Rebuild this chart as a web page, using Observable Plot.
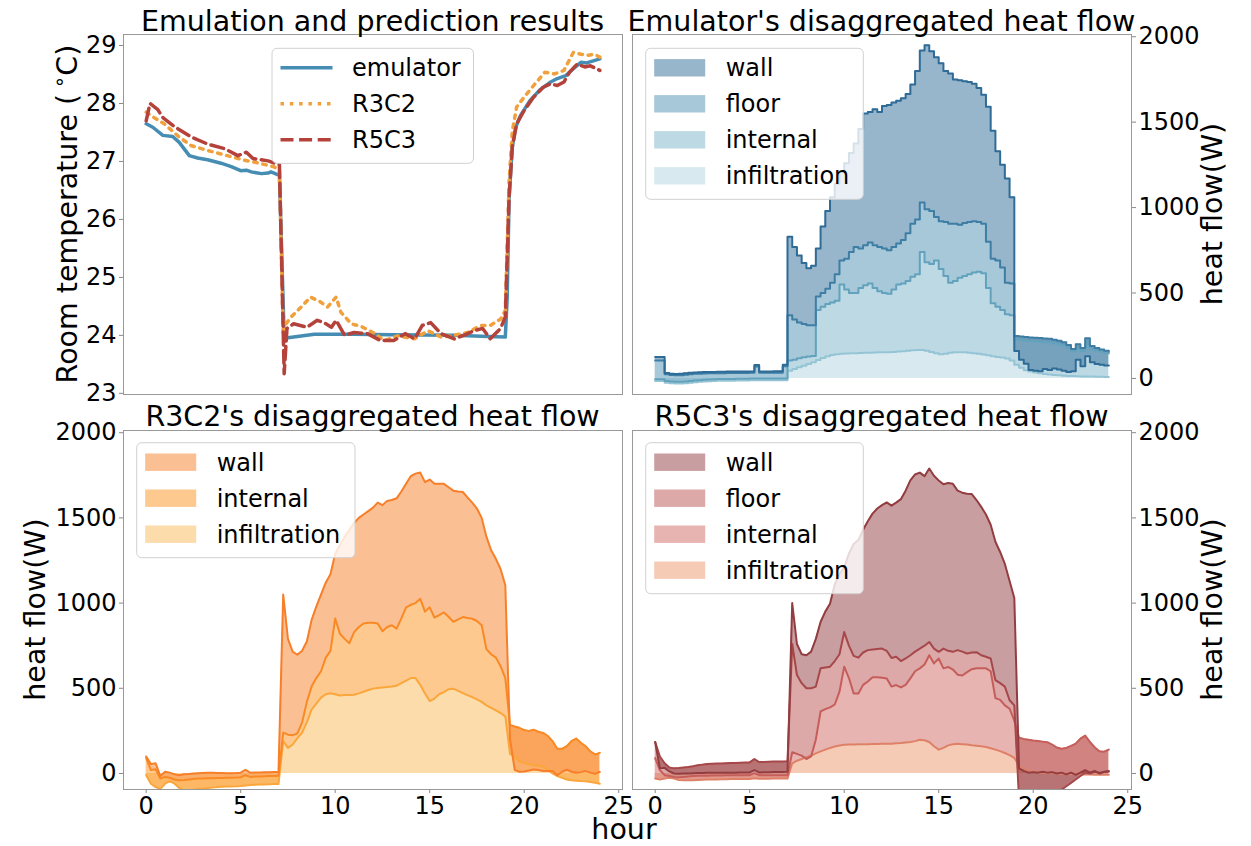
<!DOCTYPE html>
<html>
<head>
<meta charset="utf-8">
<script src="https://cdn.jsdelivr.net/npm/d3@7"></script>
<script src="https://cdn.jsdelivr.net/npm/@observablehq/plot@0.6"></script>
<style>
  html, body { margin: 0; padding: 0; background: #fff; }
  #fig { position: relative; width: 1251px; height: 846px; overflow: hidden; font-family: "DejaVu Sans", sans-serif; }
</style>
</head>
<body>
<div id="fig"></div>
<script>
// ---------- time grid for the heat-flow decompositions (hours) ----------
const hours = [0, 0.25, 0.5, 0.75, 1, 1.25, 1.5, 1.75, 2, 2.25, 2.5, 2.75, 3, 3.25, 3.5, 3.75, 4, 4.25, 4.5, 4.75,
  5, 5.25, 5.5, 5.75, 6, 6.25, 6.5, 6.75, 7, 7.25, 7.5, 7.75, 8, 8.25, 8.5, 8.75, 9, 9.25, 9.5, 9.75,
  10, 10.25, 10.5, 10.75, 11, 11.25, 11.5, 11.75, 12, 12.25, 12.5, 12.75, 13, 13.25, 13.5, 13.75, 14, 14.25, 14.5, 14.75,
  15, 15.25, 15.5, 15.75, 16, 16.25, 16.5, 16.75, 17, 17.25, 17.5, 17.75, 18, 18.25, 18.5, 18.75, 19, 19.25, 19.5, 19.75,
  20, 20.25, 20.5, 20.75, 21, 21.25, 21.5, 21.75, 22, 22.25, 22.5, 22.75, 23, 23.25, 23.5, 23.75, 24];

// ---------- room temperature traces ----------
const emuTempHours = [0, 0.35, 0.88, 1.4, 1.75, 2.28, 2.72, 3.25, 3.96, 4.5, 5.0, 5.3, 5.56, 6.1, 6.45, 6.6, 7.05, 7.3, 7.5, 8.2,
  8.9, 11, 13, 16.3, 18.1, 19.0, 19.1, 19.2, 19.37, 19.55, 19.8, 20.3, 20.85, 21.4, 21.75, 22.2, 22.6, 23, 23.3, 23.7, 24];
const emuTemp = [27.65, 27.59, 27.45, 27.43, 27.33, 27.10, 27.06, 27.03, 26.97, 26.91, 26.84, 26.85, 26.82, 26.79, 26.80, 26.82, 26.76, 23.97, 23.96, 23.99,
  24.02, 24.02, 24.01, 24.0, 23.98, 23.97, 24.66, 26.38, 27.25, 27.59, 27.79, 28.05, 28.24, 28.37, 28.43, 28.48, 28.60, 28.71, 28.70, 28.74, 28.77];

const r3TempHours = [0, 0.3, 0.95, 1.75, 2.4, 3.25, 4.3, 5.2, 5.7, 6.75, 7.05, 7.25, 7.4, 7.65, 8.2, 8.7, 9.2, 9.6, 10.05, 10.3,
  10.85, 11.4, 12.1, 12.6, 13.3, 14.2, 14.9, 15.6, 16.3, 17.0, 17.7, 18.2, 18.75, 19.0, 19.2, 19.37, 19.6, 20.0, 20.5, 21.1,
  21.6, 22.1, 22.6, 23.0, 23.35, 23.7, 24];
const r3Temp = [27.85, 27.78, 27.65, 27.42, 27.27, 27.19, 27.10, 27.02, 26.99, 26.91, 26.85, 24.0, 24.2, 24.31, 24.49, 24.66, 24.58, 24.49, 24.66, 24.40,
  24.20, 24.15, 24.03, 23.91, 23.99, 23.94, 24.08, 23.97, 24.0, 24.05, 24.17, 24.17, 24.28, 24.43, 26.66, 27.52, 27.94, 28.11, 28.31, 28.54,
  28.51, 28.57, 28.88, 28.85, 28.83, 28.85, 28.80];

const r5TempHours = [0, 0.2, 0.6, 0.9, 1.5, 2.4, 3.25, 4.15, 4.85, 5.3, 5.65, 6.45, 7.05, 7.3, 7.45, 7.8, 8.5, 9.05, 9.4, 9.8,
  10.05, 10.5, 11.0, 11.7, 12.4, 13.1, 13.7, 14.2, 14.6, 15.05, 15.6, 16.3, 16.8, 17.35, 17.8, 18.2, 18.75, 19.0, 19.2, 19.37,
  19.6, 20.0, 20.5, 21.0, 21.4, 21.75, 22.1, 22.4, 22.8, 23.2, 23.5, 24];
const r5Temp = [27.7, 28.0, 27.9, 27.75, 27.6, 27.42, 27.30, 27.22, 27.10, 27.16, 27.05, 27.01, 26.94, 23.34, 24.12, 24.2, 24.14, 24.26, 24.22, 24.14,
  24.26, 24.0, 24.05, 24.03, 23.91, 23.91, 24.03, 23.94, 24.17, 24.22, 24.03, 23.94, 24.0, 24.08, 24.12, 23.94, 24.12, 24.32, 26.38, 27.25,
  27.65, 27.88, 28.11, 28.28, 28.34, 28.31, 28.37, 28.54, 28.68, 28.63, 28.65, 28.57];

// ---------- stacked heat flow (W): upper edge of each layer, stacked from infiltration upward ----------
// Emulator
const emuInfiltrationTop = [-15, -15, -25, -28, -30, -30, -28, -25, -22, -20, -18, -16, -15, -14, -14, -13, -13, -12, -12, -12, -11, -11, -11, -10, -10, -10, -10, -10,
  45, 55, 65, 75, 85, 95, 108, 120, 130, 137, 142, 145, 146, 147, 148, 149, 150, 151, 152, 153, 154, 154, 155, 157, 159, 162, 165, 167, 166, 162,
  155, 148, 142, 145, 150, 153, 154, 153, 150, 147, 144, 140, 135, 130, 126, 122, 116, 105,
  80, 62, 48, 40, 35, 30, 26, 23, 20, 18, 16, 15, 14, 13, 12, 12, 11, 10, 10, 9, 8];
const emuInternalTop = [-5, -5, -15, -18, -20, -20, -18, -15, -12, -10, -8, -6, -5, -4, -4, -3, -3, -2, -2, -2, -1, -1, -1, 0, 0, 0, 0, 0,
  105, 110, 118, 124, 128, 132, 400, 420, 435, 445, 455, 550, 520, 500, 500, 530, 545, 555, 530, 510, 500, 495, 520, 550, 555, 570, 595, 610, 740, 680,
  670, 690, 640, 600, 560, 570, 590, 600, 610, 620, 625, 615, 530, 440, 420, 400, 375, 370,
  228, 225, 222, 220, 218, 215, 212, 210, 205, 200, 194, 178, 158, 172, 160, 198, 170, 162, 156, 150, 146];
const emuFloorTop = [105, 105, 24, 20, 18, 19, 22, 25, 27, 28, 29, 30, 30, 31, 31, 32, 32, 32, 32, 32, 33, 70, 33, 33, 33, 34, 34, 72,
  370, 345, 328, 318, 312, 312, 480, 500, 525, 560, 610, 690, 700, 740, 770, 760, 780, 795, 780, 770, 760, 750, 770, 790, 810, 850, 905, 930, 1030, 990,
  980, 945, 920, 915, 905, 905, 900, 910, 915, 920, 915, 905, 800, 700, 690, 650, 560, 555,
  248, 245, 242, 240, 238, 236, 234, 232, 226, 220, 212, 195, 172, 200, 178, 235, 190, 178, 170, 162, 158];
const emuWallTop = [125, 125, 32, 28, 26, 27, 30, 33, 35, 36, 37, 38, 38, 39, 39, 40, 40, 40, 40, 40, 41, 78, 41, 41, 41, 42, 42, 80,
  830, 770, 720, 675, 645, 660, 760, 890, 980, 1060, 1140, 1210, 1260, 1320, 1375, 1460, 1550, 1560, 1575, 1560, 1595, 1600, 1615, 1625, 1640, 1665, 1720, 1800, 1920, 1950,
  1915, 1880, 1845, 1800, 1785, 1750, 1745, 1740, 1735, 1725, 1700, 1660, 1590, 1450, 1330, 1250, 1170, 1060,
  160, 110, 86, 50, 45, 42, 55, 50, 58, 52, 45, 38, 42, 110, 72, 130, 95, 85, 80, 76, 76];

// R3C2
const r3InfiltrationTop = [-10, -60, -80, -90, -60, -45, -60, -85, -100, -100, -95, -90, -88, -85, -83, -80, -78, -77, -76, -75, -73, -70, -68, -66, -65, -64, -63, -62, -62,
  190, 150, 170, 208, 240, 300, 375, 410, 445, 465, 471, 465, 458, 460, 460, 462, 470, 480, 490, 498, 502, 505, 508, 510, 515, 530, 545, 560, 560, 520,
  470, 425, 440, 465, 478, 495, 498, 485, 472, 460, 448, 435, 420, 400, 385, 370, 355, 335,
  115, 100, 72, 62, 55, 48, 45, 40, 20, 0, -15, -25, -35, -40, -42, -44, -45, -50, -55, -60];
const r3InternalTop = [90, 20, 25, -30, -20, -25, -35, -40, -38, -35, -32, -30, -29, -28, -28, -27, -26, -25, -25, -24, -22, -10, -20, -18, -17, -16, -15, -15, -14,
  240, 228, 225, 235, 300, 420, 510, 560, 600, 680, 720, 910, 820, 790, 765, 830, 860, 880, 885, 885, 880, 835, 860, 870, 850, 910, 975, 990, 1000, 1025,
  950, 975, 915, 930, 945, 920, 890, 905, 918, 912, 908, 895, 870, 730, 700, 680, 630, 560,
  285, 276, 268, 255, 250, 257, 245, 238, 220, 190, 145, 145, 160, 190, 205, 180, 160, 130, 112, 121];
const r3WallTop = [100, 55, 60, -15, 10, 5, -5, -10, -5, -3, 0, 2, 3, 4, 4, 3, 3, 2, 2, 3, 5, 22, 5, 6, 6, 7, 7, 8, 8,
  1050, 790, 715, 697, 720, 775, 900, 980, 1050, 1120, 1170, 1290, 1340, 1390, 1430, 1470, 1500, 1520, 1540, 1560, 1590, 1575, 1600, 1605, 1615, 1655, 1700, 1745, 1760, 1766,
  1710, 1725, 1700, 1700, 1700, 1680, 1660, 1655, 1652, 1620, 1590, 1555, 1500, 1390, 1310, 1260, 1200, 1105,
  200, 20, 10, 12, 18, 23, 20, 15, 14, 14, -10, 10, 22, 10, 4, 8, 14, 5, -2, 10];

// R5C3
const r5InfiltrationTop = [-30, -35, -30, -25, -30, -38, -40, -40, -40, -38, -37, -36, -35, -35, -34, -34, -33, -33, -32, -32, -32, -28, -31, -31, -31, -30, -30, -30, -30,
  60, 75, 85, 95, 105, 118, 130, 140, 150, 158, 164, 168, 170, 170, 171, 172, 172, 173, 173, 174, 174, 175, 177, 179, 182, 185, 190, 198, 195, 185,
  160, 140, 150, 165, 172, 174, 172, 170, 166, 163, 160, 155, 148, 140, 131, 120, 108, 92,
  45, 25, 15, 10, 6, 4, 3, 2, 0, -2, -3, -4, -5, -5, -6, -6, -7, -7, -8, -8];
const r5InternalTop = [90, 20, -10, -15, -20, -22, -20, -18, -15, -14, -13, -13, -12, -12, -12, -11, -11, -11, -10, -10, -10, 2, -10, -10, -10, -10, -10, -10, -10,
  125, 115, 105, 85, 100, 200, 364, 378, 388, 405, 480, 627, 560, 470, 470, 520, 540, 565, 565, 562, 558, 510, 519, 505, 520, 558, 600, 617, 640, 694,
  646, 675, 617, 625, 610, 580, 575, 595, 612, 617, 617, 617, 600, 442, 432, 400, 380, 310,
  210, 203, 198, 193, 190, 187, 184, 170, 152, 145, 150, 162, 175, 205, 222, 185, 154, 130, 128, 140];
const r5FloorTop = [185, 100, 60, 35, 30, 32, 35, 38, 42, 48, 52, 55, 57, 58, 59, 60, 61, 62, 63, 64, 65, 85, 67, 68, 69, 70, 70, 71, 72,
  760, 578, 530, 500, 500, 510, 617, 622, 627, 660, 700, 830, 750, 690, 680, 710, 724, 728, 731, 733, 720, 678, 685, 660, 675, 694, 715, 733, 750, 772,
  733, 714, 733, 720, 714, 724, 715, 704, 710, 712, 694, 685, 675, 548, 530, 510, 430, 400,
  -150, -150, -150, -148, -145, -140, -135, -128, -115, -95, -75, -55, -35, -15, 5, 0, 10, 5, 8, 10];
const r5WallTop = [185, 30, 33, 12, 0, -2, 0, 0, 2, 3, 3, 4, 4, 4, 5, 5, 5, 5, 6, 6, 6, 20, 6, 7, 7, 8, 8, 9, 10,
  1000, 760, 700, 694, 715, 790, 889, 950, 996, 1110, 1170, 1210, 1290, 1347, 1370, 1430, 1480, 1525, 1555, 1575, 1591, 1572, 1590, 1610, 1660, 1720, 1755, 1766, 1745, 1790,
  1747, 1720, 1698, 1705, 1700, 1660, 1648, 1642, 1640, 1605, 1565, 1520, 1460, 1360, 1300, 1230, 1130, 1030,
  30, 15, 5, 8, 5, 10, 5, 8, 0, 5, -5, 5, -8, 5, 20, 5, 15, 0, 10, 15];

// ---------- ticks, labels, colours ----------
const hourTicks = [0, 5, 10, 15, 20, 25];
const tempTicks = [23, 24, 25, 26, 27, 28, 29];
const heatTicks = [0, 500, 1000, 1500, 2000];
const panelTitles = ["Emulation and prediction results", "Emulator's disaggregated heat flow",
  "R3C2's disaggregated heat flow", "R5C3's disaggregated heat flow"];
const tempSeries = ["emulator", "R3C2", "R5C3"];
const tempColors = ["#468db3", "#f0a03c", "#b4423b"];
const emuLayers = ["wall", "floor", "internal", "infiltration"];
const emuColors = ["#2f6b97", "#4d91b1", "#79b3c9", "#b1d5e1"];
const r3Layers = ["wall", "internal", "infiltration"];
const r3Colors = ["#f77f29", "#fb931f", "#f9b957"];
const r5Layers = ["wall", "floor", "internal", "infiltration"];
const r5Colors = ["#933d41", "#b95151", "#d16963", "#eb976b"];

// ---------- layout ----------
const FONT = "DejaVu Sans";
const xDomain = [-1.2, 25.2];
const heatDomain = [-94, 2013];
const fig = document.getElementById("fig");

function place(svg, left, top) {
  svg.style.position = "absolute";
  svg.style.left = left + "px";
  svg.style.top = top + "px";
  svg.style.overflow = "visible";
  svg.style.background = "transparent";
  fig.appendChild(svg);
}

const baseStyle = {fontFamily: FONT, fontSize: "24px", background: "transparent", overflow: "visible"};
const axisStyle = {tickSize: 4, tickPadding: 3, stroke: "#888", fill: "black", fontSize: 24, tickFormat: "d", label: null};

// Top-left: room temperature
const tempPlot = Plot.plot({
  width: 627, height: 400,
  marginLeft: 123, marginRight: 5, marginTop: 34, marginBottom: 6,
  x: {domain: xDomain, axis: null},
  y: {domain: [22.98, 29.19], axis: null},
  style: baseStyle,
  marks: [
    Plot.line(emuTempHours.map((h, i) => [h, emuTemp[i]]), {stroke: tempColors[0], strokeWidth: 3.5, clip: true}),
    Plot.line(r3TempHours.map((h, i) => [h, r3Temp[i]]), {stroke: tempColors[1], strokeWidth: 3.5, strokeDasharray: "3.5,5.8", clip: true}),
    Plot.line(r5TempHours.map((h, i) => [h, r5Temp[i]]), {stroke: tempColors[2], strokeWidth: 3.5, strokeDasharray: "13,5.6", clip: true}),
    Plot.axisY({...axisStyle, ticks: tempTicks, anchor: "left"}),
    Plot.frame({stroke: "#999"})
  ]
});
place(tempPlot, 0, 0);

// Stacked heat-flow panel; each layer spans from the previous layer's top to its own.
// colours are ordered bottom → top; a boundary line takes the blend of the two layers it separates.
function heatPanel({tops, colors, curve, anchor, showX, height, marginTop, marginBottom, marginLeft, marginRight, width}) {
  let prev = hours.map(() => 0);
  const bands = tops.map((top, k) => {
    const band = hours.map((h, i) => ({h, lo: prev[i], hi: top[i]}));
    prev = top;
    const edge = k < tops.length - 1 ? d3.interpolateRgb(colors[k], colors[k + 1])(0.5) : colors[k];
    return {band, color: colors[k], edge};
  });
  const marks = [];
  for (const b of bands) marks.push(Plot.areaY(b.band, {x: "h", y1: "lo", y2: "hi", curve, fill: b.color, fillOpacity: 0.5, clip: true}));
  for (const b of bands) marks.push(Plot.lineY(b.band, {x: "h", y: "hi", curve, stroke: b.edge, strokeWidth: 2, clip: true}));
  marks.push(Plot.axisY({...axisStyle, ticks: heatTicks, anchor}));
  if (showX) marks.push(Plot.axisX({...axisStyle, ticks: hourTicks, anchor: "bottom"}));
  marks.push(Plot.frame({stroke: "#999"}));
  return Plot.plot({
    width, height, marginTop, marginBottom, marginLeft, marginRight,
    x: {domain: xDomain, axis: null},
    y: {domain: heatDomain, axis: null},
    style: baseStyle,
    marks
  });
}

// stacking order bottom → top: infiltration, internal, (floor), wall
place(heatPanel({
  tops: [emuInfiltrationTop, emuInternalTop, emuFloorTop, emuWallTop],
  colors: [emuColors[3], emuColors[2], emuColors[1], emuColors[0]],
  curve: "step-after", anchor: "right", showX: false,
  width: 624, height: 400, marginTop: 34, marginBottom: 6, marginLeft: 5, marginRight: 120
}), 627, 0);

place(heatPanel({
  tops: [r3InfiltrationTop, r3InternalTop, r3WallTop],
  colors: [r3Colors[2], r3Colors[1], r3Colors[0]],
  curve: "linear", anchor: "left", showX: true,
  width: 627, height: 446, marginTop: 30, marginBottom: 57, marginLeft: 123, marginRight: 5
}), 0, 400);

place(heatPanel({
  tops: [r5InfiltrationTop, r5InternalTop, r5FloorTop, r5WallTop],
  colors: [r5Colors[3], r5Colors[2], r5Colors[1], r5Colors[0]],
  curve: "linear", anchor: "right", showX: true,
  width: 624, height: 446, marginTop: 30, marginBottom: 57, marginLeft: 5, marginRight: 120
}), 627, 400);

// ---------- titles, axis labels and legends ----------
const over = d3.select(fig).append("svg")
  .attr("width", 1251).attr("height", 846)
  .style("position", "absolute").style("left", "0px").style("top", "0px")
  .style("font-family", FONT).style("pointer-events", "none");

const titlePos = [[372.5, 31], [881.5, 31], [372.5, 426], [881.5, 426]];
panelTitles.forEach((t, i) => {
  over.append("text").attr("x", titlePos[i][0]).attr("y", titlePos[i][1])
    .attr("text-anchor", "middle").attr("font-size", 28.5).attr("fill", "black").text(t);
});

// y labels (rotated)
const tl = over.append("text").attr("transform", "translate(77,214) rotate(-90)")
  .attr("text-anchor", "middle").attr("font-size", 28.5);
tl.append("tspan").text("Room temperature (\u2009");
tl.append("tspan").attr("font-size", 20).attr("dy", -11).text("\u2218");
tl.append("tspan").attr("dy", 11).text("C)");

[[1222, 214], [45, 609.5], [1222, 609.5]].forEach(([x, y]) => {
  over.append("text").attr("transform", `translate(${x},${y}) rotate(-90)`)
    .attr("text-anchor", "middle").attr("font-size", 28.5).text("heat flow(W)");
});

over.append("text").attr("x", 624).attr("y", 839).attr("text-anchor", "middle")
  .attr("font-size", 28.5).text("hour");

function legendBox(x, y, w, n) {
  const g = over.append("g");
  g.append("rect").attr("x", x).attr("y", y).attr("width", w).attr("height", 36 * n + 7)
    .attr("rx", 5).attr("fill", "white").attr("fill-opacity", 0.8)
    .attr("stroke", "#d0d0d0").attr("stroke-width", 1);
  return g;
}

// temperature legend
{
  const x = 272, y = 48.3;
  const g = legendBox(x, y, 201.5, 3);
  const dashes = [null, "3.5,5.8", "13,5.6"];
  tempSeries.forEach((name, i) => {
    const cy = y + 19.5 + 36 * i;
    g.append("line").attr("x1", x + 8.5).attr("x2", x + 60.5).attr("y1", cy).attr("y2", cy)
      .attr("stroke", tempColors[i]).attr("stroke-width", 3.5)
      .attr("stroke-dasharray", dashes[i]);
    g.append("text").attr("x", x + 80).attr("y", cy + 8.5).attr("font-size", 24).text(name);
  });
}

function patchLegend(x, y, w, names, colors) {
  const g = legendBox(x, y, w, names.length);
  names.forEach((name, i) => {
    const cy = y + 19.5 + 36 * i;
    g.append("rect").attr("x", x + 8.5).attr("y", cy - 8.7).attr("width", 51).attr("height", 17.4)
      .attr("fill", colors[i]).attr("fill-opacity", 0.5);
    g.append("text").attr("x", x + 80).attr("y", cy + 8.5).attr("font-size", 24).text(name);
  });
}
patchLegend(645.7, 48.3, 217.6, emuLayers, emuColors);
patchLegend(136.7, 442.7, 218.3, r3Layers, r3Colors);
patchLegend(645.7, 442.7, 217.6, r5Layers, r5Colors);
</script>
</body>
</html>
